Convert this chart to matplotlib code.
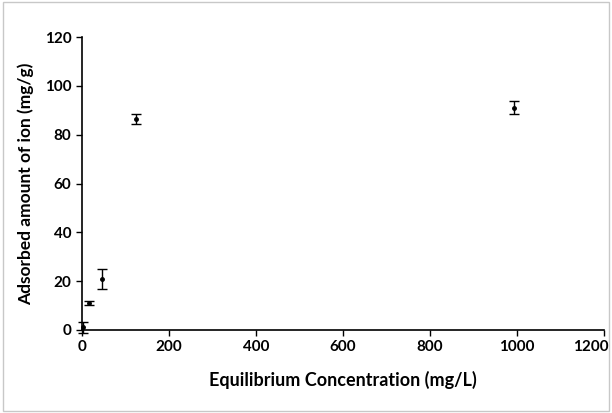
import matplotlib.pyplot as plt
from matplotlib.patches import Rectangle
from matplotlib.transforms import ScaledTranslation

# Equilibrium data
conc = [2, 17, 46, 125, 993]          # mg/L
adsorbed = [1.1, 11.2, 21.0, 86.6, 91.1]  # mg/g
err = [2.3, 0.8, 4.0, 2.1, 2.6]

plt.rcParams['font.family'] = ['Lato', 'DejaVu Sans']

fig = plt.figure(figsize=(6.12, 4.13), dpi=100)
ax = fig.add_axes([0.134, 0.201, 0.853, 0.709])

ax.errorbar(conc, adsorbed, yerr=err, fmt='o', color='black', markersize=2.5,
            elinewidth=1, capsize=3.5, capthick=1, clip_on=False, zorder=3)

ax.set_xlim(0, 1200)
ax.set_ylim(0, 120)
ax.set_xticks(range(0, 1201, 200))
ax.set_yticks(range(0, 121, 20))
for side in ['top', 'right']:
    ax.spines[side].set_visible(False)
for side in ['left', 'bottom']:
    ax.spines[side].set_linewidth(1.2)
ax.tick_params(direction='out', length=4, width=1, labelsize=11)
for lbl in ax.get_xticklabels() + ax.get_yticklabels():
    lbl.set_fontweight('bold')

# last x label pulled inside the frame, as in the original
last = ax.get_xticklabels()[-1]
last.set_transform(last.get_transform() + ScaledTranslation(-0.13, 0, fig.dpi_scale_trans))

ax.set_xlabel('Equilibrium Concentration (mg/L)', fontsize=13, fontweight='bold', labelpad=12)
ax.set_ylabel('Adsorbed amount of ion (mg/g)', fontsize=12.5, fontweight='bold', labelpad=8)

# light chart border
fig.patches.append(Rectangle((0.005, 0.005), 0.99, 0.99, transform=fig.transFigure,
                             fill=False, edgecolor='#c8c8c8', linewidth=1))

fig.savefig('out.png', dpi=100)
